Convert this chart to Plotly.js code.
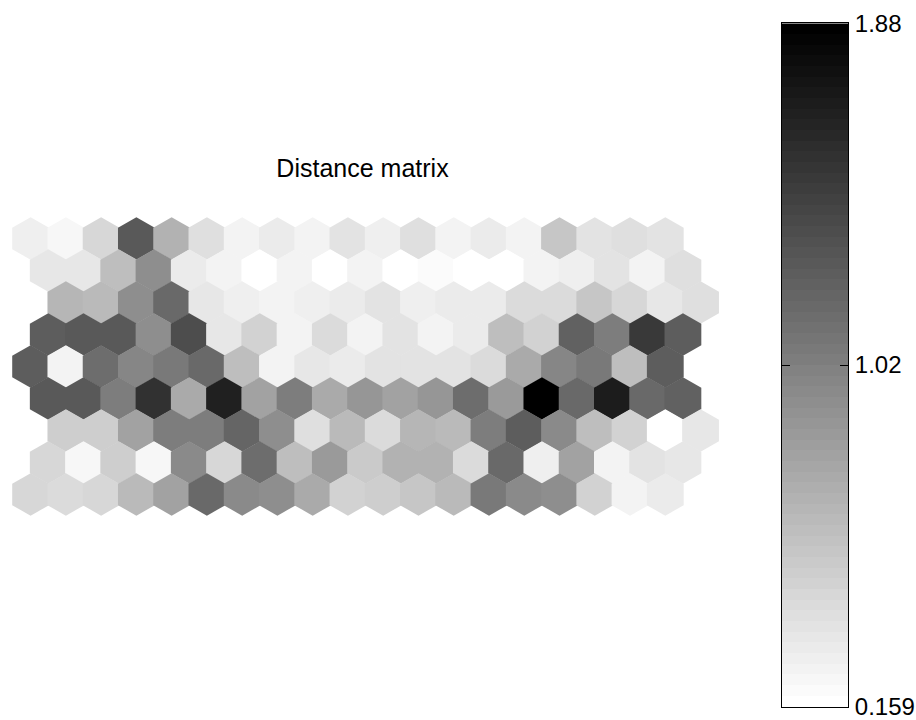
<!DOCTYPE html>
<html><head><meta charset="utf-8">
<script src="https://cdn.plot.ly/plotly-3.0.1.min.js"></script>
<style>html,body{margin:0;padding:0;background:#fff}</style>
</head><body><div id="chart" style="width:916px;height:720px"></div>
<script>
const chartTitle = 'Distance matrix';
// distance values per hexagon row (top to bottom), 19 cells each
const row1 = [0.28, 0.23, 0.45, 1.28, 0.69, 0.40, 0.26, 0.30, 0.26, 0.35, 0.28, 0.38, 0.25, 0.31, 0.26, 0.54, 0.37, 0.38, 0.37];
const row2 = [0.33, 0.33, 0.59, 0.92, 0.31, 0.25, 0.18, 0.25, 0.18, 0.25, 0.16, 0.19, 0.16, 0.16, 0.26, 0.28, 0.35, 0.25, 0.40];
const row3 = [0.66, 0.64, 0.92, 1.16, 0.33, 0.28, 0.26, 0.28, 0.30, 0.35, 0.28, 0.31, 0.31, 0.42, 0.42, 0.56, 0.43, 0.33, 0.40];
const row4 = [1.26, 1.28, 1.28, 0.92, 1.35, 0.33, 0.47, 0.26, 0.42, 0.26, 0.35, 0.26, 0.30, 0.61, 0.47, 1.21, 1.02, 1.50, 1.24];
const row5 = [1.24, 0.25, 1.14, 0.99, 1.05, 1.16, 0.61, 0.26, 0.33, 0.31, 0.37, 0.37, 0.37, 0.42, 0.73, 0.97, 1.05, 0.61, 1.24];
const row6 = [1.28, 1.28, 1.02, 1.54, 0.74, 1.66, 0.80, 1.04, 0.74, 0.88, 0.80, 0.88, 1.14, 0.85, 1.88, 1.16, 1.67, 1.16, 1.23];
const row7 = [0.49, 0.49, 0.78, 1.02, 1.02, 1.19, 0.92, 0.40, 0.64, 0.42, 0.66, 0.62, 1.02, 1.26, 0.95, 0.61, 0.47, 0.16, 0.33];
const row8 = [0.45, 0.23, 0.50, 0.23, 0.95, 0.45, 1.14, 0.61, 0.85, 0.52, 0.69, 0.69, 0.42, 1.16, 0.28, 0.80, 0.25, 0.35, 0.33];
const row9 = [0.45, 0.42, 0.45, 0.62, 0.80, 1.16, 0.95, 0.92, 0.74, 0.47, 0.50, 0.56, 0.64, 1.05, 0.95, 0.92, 0.47, 0.25, 0.31];
const colorLimits = [0.159, 1.88];
const colorbarTickValues = [0.159, 1.0195, 1.88];
const colorbarTickLabels = ['0.159', '1.02', '1.88'];

const nLevels = 64;
const rows = [row1, row2, row3, row4, row5, row6, row7, row8, row9];
const shiftPattern = [0, 0.5, 1, 0.5];
const xs = [], ys = [], zs = [];
rows.forEach((row, r) => row.forEach((v, c) => {
  xs.push(c + shiftPattern[r % 4]); ys.push(r); zs.push(v);
}));
const [cmin, cmax] = colorLimits;

// stepped inverted gray colormap (64 levels)
const scale = [];
for (let i = 0; i < nLevels; i++) {
  const g = Math.round(255 * (1 - i / (nLevels - 1)));
  const col = `rgb(${g},${g},${g})`;
  scale.push([i / nLevels, col]);
  scale.push([(i + 1) / nLevels, col]);
}
const bandCenters = Array.from({length: nLevels}, (_, i) => cmin + (i + 0.5) * (cmax - cmin) / nLevels);
const eps = (cmax - cmin) * 1e-4;

const font = 'Liberation Sans, Arial, Helvetica, sans-serif';
const traces = [
  {
    type: 'scatter', mode: 'markers', x: xs, y: ys,
    marker: {symbol: 'hexagon', size: 42.5, color: zs, colorscale: scale, cmin: cmin, cmax: cmax,
             line: {width: 0}, showscale: false},
    hoverinfo: 'skip', xaxis: 'x', yaxis: 'y'
  },
  {
    type: 'heatmap', x: [0.5], y: bandCenters, z: bandCenters.map(v => [v]),
    colorscale: scale, zmin: cmin, zmax: cmax, showscale: false,
    hoverinfo: 'skip', xaxis: 'x2', yaxis: 'y2'
  }
];
const layout = {
  width: 916, height: 720, margin: {l: 0, r: 0, t: 0, b: 0},
  paper_bgcolor: '#ffffff', plot_bgcolor: 'rgba(0,0,0,0)', showlegend: false,
  font: {family: font, color: '#000'},
  title: {text: chartTitle, x: 362.5 / 916, xanchor: 'center', y: 1 - 168 / 720, yanchor: 'middle',
          font: {family: font, size: 25, color: '#000'}},
  xaxis: {domain: [0, 760 / 916], range: [-0.868, 20.686], visible: false},
  yaxis: {domain: [0, 1], range: [15.047, -7.453], visible: false},
  xaxis2: {domain: [782 / 916, 848 / 916], range: [0, 1], anchor: 'y2', showline: true, mirror: true,
           linecolor: '#000', linewidth: 1, showticklabels: false, ticks: '', showgrid: false, zeroline: false},
  yaxis2: {domain: [13.3 / 720, 696.7 / 720], range: [cmin - eps, cmax + eps], anchor: 'x2', side: 'right',
           showline: true, mirror: 'ticks', linecolor: '#000', linewidth: 1, ticks: 'inside', ticklen: 8,
           tickcolor: '#000', tickvals: colorbarTickValues, ticktext: colorbarTickLabels,
           ticklabeloverflow: 'allow', ticklabelstandoff: 1,
           tickfont: {family: font, size: 24, color: '#000'}, showgrid: false, zeroline: false}
};
Plotly.newPlot('chart', traces, layout, {staticPlot: true, displayModeBar: false});
</script></body></html>
